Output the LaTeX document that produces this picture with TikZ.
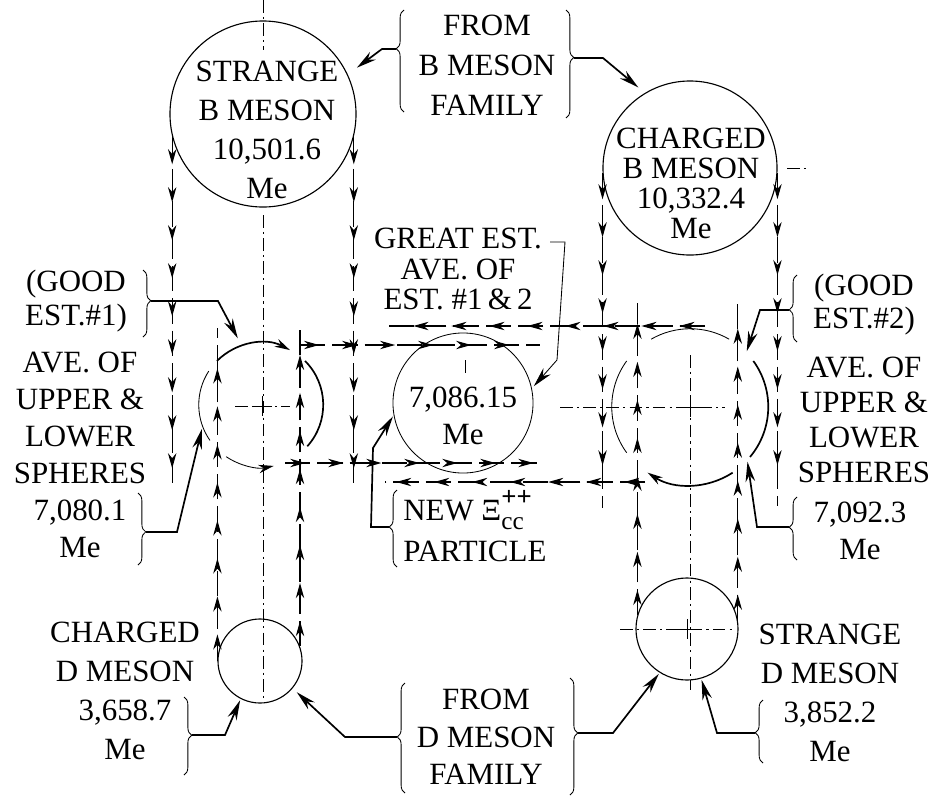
\documentclass[tikz,border=0pt]{standalone}
\usepackage{fontspec}
\setmainfont{Liberation Serif}
\usetikzlibrary{arrows.meta,decorations.markings,decorations.pathreplacing}

\begin{document}
\begin{tikzpicture}[x=0.025cm, y=-0.025cm,
  lbl/.style={font=\fontsize{22}{#1}\selectfont, align=center, inner sep=0pt},
  lbl/.default=26.5pt,
  ball/.style={draw, circle, thick, inner sep=0pt},
  ghost/.style={circle, inner sep=0pt},
  arr/.style={very thick, -{Stealth[length=5mm,width=2.4mm]}},
  brc/.style={decorate, decoration={brace, amplitude=5.5pt, aspect=#1}, semithick},
  brc/.default=0.5,
  flow/.style={thick, dash pattern=on 18pt off 5pt, postaction={decorate},
    decoration={markings, mark=between positions 0.08 and 0.98 step 0.95cm with {\arrow{Stealth[length=3.8mm,width=2.1mm]}}}},
  cline/.style={very thin, dash pattern=on 9pt off 3pt on 1.5pt off 3pt},
  rim/.style={semithick},
  rimb/.style={very thick},
  tipa/.style={-{Stealth[length=3.8mm,width=2.1mm]}}]
\useasboundingbox (0,0) rectangle (934,797);

\node[ball, minimum size=4.65cm] (sbm) at (263,114) {};
\node[ball, minimum size=4.35cm] (cbm) at (690,168) {};
\node[ball, semithick, minimum size=3.5cm] (mid) at (463,403) {};
\node[ghost, minimum size=3.1cm] (lms) at (261,405) {};
\node[ghost, minimum size=3.9cm] (rms) at (690,407) {};
\node[ball, minimum size=2.1cm] (cdm) at (260,661) {};
\node[ball, minimum size=2.55cm] (sdm) at (687,629) {};

\node[lbl=27.6pt] (sbmT) at (267,130) {STRANGE\\B MESON\\10,501.6\\Me};
\node[lbl=21.3pt] (cbmT) at (691,183) {CHARGED\\B MESON\\10,332.4\\Me};
\node[lbl=26.2pt] (midT) at (463,416) {7,086.15\\Me};
\node[lbl=28.3pt] (fbmT) at (487,65) {FROM\\B MESON\\FAMILY};
\node[lbl=22pt] (geaT) at (458,269) {GREAT EST.\\AVE. OF\\EST. \#1\,\&\,2};
\node[lbl=24.8pt] (gd1T) at (76,301) {(GOOD\\EST.\#1)};
\node[lbl=26.2pt] (av1T) at (80,455) {AVE. OF\\UPPER \&\\LOWER\\SPHERES\\7,080.1\\Me};
\node[lbl=29pt, align=left, anchor=west] (nwpT) at (403,531)
  {NEW Ξ\smash{\rlap{\raisebox{0.5em}{\fontsize{19}{19}\selectfont\bfseries ++}}\raisebox{-0.3em}{\fontsize{18}{18}\selectfont cc}}\\PARTICLE};
\node[lbl=23.4pt] (gd2T) at (864,305) {(GOOD\\EST.\#2)};
\node[lbl=24.8pt] (av2T) at (864,420) {AVE. OF\\UPPER \&\\LOWER\\SPHERES};
\node[lbl=26.2pt] (vl2T) at (860,531) {7,092.3\\Me};
\node[lbl=27.6pt] (cdmT) at (125,691) {CHARGED\\D MESON\\3,658.7\\Me};
\node[lbl=26.6pt] (fdmT) at (486,737) {FROM\\D MESON\\FAMILY};
\node[lbl=27.6pt] (sdmT) at (830,693) {STRANGE\\D MESON\\3,852.2\\Me};

\draw[rimb, tipa] (lms.135) arc[start angle=135, end angle=62, radius=1.55cm];
\draw[rim] (lms.147) arc[start angle=147, end angle=215, radius=1.55cm];
\draw[rim, tipa] (lms.236) arc[start angle=236, end angle=282, radius=1.55cm];
\draw[rimb] (lms.45) arc[start angle=45, end angle=-42, radius=1.55cm];
\draw[rim] (rms.60) arc[start angle=60, end angle=120, radius=1.95cm];
\draw[rim] (rms.144) arc[start angle=144, end angle=216, radius=1.95cm];
\draw[rimb, tipa] (rms.303) arc[start angle=303, end angle=237, radius=1.95cm];
\draw[rimb] (rms.36) arc[start angle=36, end angle=-40, radius=1.95cm];

\draw[cline] (263,0) -- (263,50);
\draw[cline] (263,215) -- (263,698);
\draw[cline] (235,406) -- (290,406);
\draw[cline] (690,355) -- (690,690);
\draw[cline] (560,407) -- (725,407);
\draw[cline] (620,629) -- (735,629);
\draw[cline] (465,360) -- (465,374);
\draw[cline] (787,168) -- (810,168);
\foreach \cx/\cy in {262/406, 690/407, 687/629}
  \draw[thin] (\cx-10,\cy) -- (\cx+10,\cy) (\cx,\cy-10) -- (\cx,\cy+10);

\draw[flow] (sbm.194) -- ++(0,346);
\draw[flow] (sbm.-14) -- ++(0,346);
\draw[flow] (cdm.180) -- ++(0,-333);
\draw[flow] (cdm.20) -- ++(0,-318);
\draw[flow] (cbm.183) -- ++(0,335);
\draw[flow] (cbm.-3) -- ++(0,333);
\draw[flow] (sdm.164) -- ++(0,-312);
\draw[flow] (sdm.10) -- ++(0,-317);
\draw[flow] (300,345) -- (540,345);
\draw[flow] (285,463) -- (540,463);
\draw[flow] (705,326) -- (385,326);
\draw[flow] (645,482) -- (385,482);

\draw[brc=0.62] (404,112) -- (404,10);
\draw[brc=0.44] (566,10) -- (566,118);
\draw[brc=0.46] (143,270) -- (143,337);
\draw[brc=0.54] (138,493) -- (138,565);
\draw[brc=0.52] (397,567) -- (397,490);
\draw[brc=0.48] (797,342) -- (797,275);
\draw[brc=0.52] (797,560) -- (797,497);
\draw[brc=0.49] (184,697) -- (184,775);
\draw[brc=0.51] (405,793) -- (405,683);
\draw[brc=0.47] (570,678) -- (570,795);
\draw[brc=0.48] (763,763) -- (763,700);

\coordinate (fbmL) at (396,49);
\coordinate (fbmR) at (574,58);
\coordinate (gd1) at (151,301);
\coordinate (av1) at (146,532);
\coordinate (geaE) at (550,242);
\coordinate (nwp) at (389,527);
\coordinate (gd2) at (789,310);
\coordinate (av2) at (789,527);
\coordinate (cdmB) at (192,735);
\coordinate (fdmL) at (397,737);
\coordinate (fdmR) at (578,733);
\coordinate (sdmB) at (755,733);

\draw[arr, shorten >=8pt] (fbmL) -- (382,49) -- (sbm.25);
\draw[arr, shorten >=6pt] (fbmR) -- (603,58) -- (cbm.121);
\draw[arr, shorten >=6pt] (gd1) -- (218,301) -- (lms.108);
\draw[arr, shorten >=2pt] (av1) -- (177,532) -- (lms.200);
\draw[arr, semithick, shorten >=2pt] (geaE) -- (565,242) -- (557,360) -- (mid.12);
\draw[arr, shorten >=1pt] (nwp) -- (371,527) -- (373,448) -- (mid.190);
\draw[arr, shorten >=1pt] (gd2) -- (760,310) -- (rms.44);
\draw[arr, shorten >=1pt] (av2) -- (757,527) -- (rms.-43);
\draw[arr, shorten >=1pt] (cdmB) -- (225,735) -- (cdm.243);
\draw[arr, shorten >=4pt] (fdmL) -- (345,737) -- (cdm.-40);
\draw[arr, shorten >=1pt] (fdmR) -- (613,733) -- (sdm.238);
\draw[arr, shorten >=1pt] (sdmB) -- (717,733) -- (sdm.-74);
\end{tikzpicture}
\end{document}
